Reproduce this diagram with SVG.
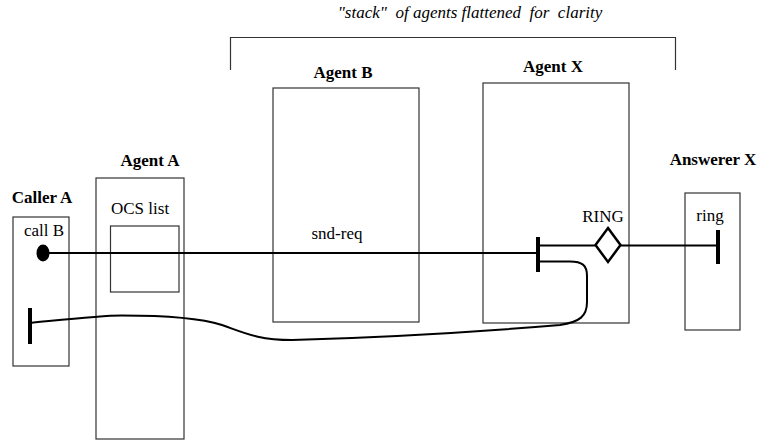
<svg xmlns="http://www.w3.org/2000/svg" width="760" height="442" viewBox="0 0 760 442">
  <style>
    .box { fill: none; stroke: #333; stroke-width: 1.2; }
    .title { font-family: 'Liberation Serif', 'Times New Roman', Times, 'DejaVu Serif', serif; font-weight: bold; font-size: 17px; fill: #000; }
    .lbl { font-family: 'Liberation Serif', 'Times New Roman', Times, 'DejaVu Serif', serif; font-size: 17px; fill: #000; }
    .note { font-family: 'Liberation Serif', 'Times New Roman', Times, 'DejaVu Serif', serif; font-style: italic; font-size: 17px; fill: #000; }
    .wire { fill: none; stroke: #000; stroke-width: 2; }
    .bar { stroke: #000; stroke-width: 4; }
  </style>
  <rect width="760" height="442" fill="#fff"/>

  <!-- bracket grouping the flattened agent stack -->
  <g id="stack-bracket">
    <text class="note" x="470" y="18" text-anchor="middle" xml:space="preserve">"stack"  of agents flattened  for  clarity</text>
    <path d="M230.5,70 V37.5 H675.5 V70" fill="none" stroke="#333" stroke-width="1.2"/>
  </g>

  <g id="caller-a">
    <text class="title" x="42" y="203" text-anchor="middle">Caller A</text>
    <rect class="box" x="13" y="217" width="56" height="149"/>
    <text class="lbl" x="44" y="236" text-anchor="middle">call B</text>
    <ellipse cx="43" cy="253" rx="6.5" ry="8.5" fill="#000"/>
    <line class="bar" x1="30" y1="308" x2="30" y2="344"/>
  </g>

  <g id="agent-a">
    <text class="title" x="150" y="166" text-anchor="middle">Agent A</text>
    <rect class="box" x="96" y="178" width="88" height="261"/>
    <text class="lbl" x="111" y="214">OCS list</text>
    <rect class="box" x="110.5" y="226" width="68.5" height="66"/>
  </g>

  <g id="agent-b">
    <text class="title" x="343" y="78" text-anchor="middle">Agent B</text>
    <rect class="box" x="273" y="88" width="146" height="234"/>
    <text class="lbl" x="337" y="239" text-anchor="middle">snd-req</text>
  </g>

  <g id="agent-x">
    <text class="title" x="553" y="72" text-anchor="middle">Agent X</text>
    <rect class="box" x="483" y="83" width="146" height="240"/>
    <text class="lbl" x="603" y="222" text-anchor="middle">RING</text>
    <polygon points="608,228 620.5,245 608,262 595.5,245" fill="#fff" stroke="#000" stroke-width="2.5"/>
    <line class="bar" x1="538" y1="237" x2="538" y2="272"/>
  </g>

  <g id="answerer-x">
    <text class="title" x="713" y="165" text-anchor="middle">Answerer X</text>
    <rect class="box" x="685" y="193" width="55" height="137"/>
    <text class="lbl" x="710" y="221" text-anchor="middle">ring</text>
    <line class="bar" x1="718" y1="230" x2="718" y2="264"/>
  </g>

  <!-- signal paths between the parties -->
  <g id="connectors">
    <line class="wire" x1="43" y1="253" x2="538" y2="253"/>
    <line class="wire" x1="538" y1="245.5" x2="595.5" y2="245.5"/>
    <line class="wire" x1="620.5" y1="245.5" x2="718" y2="245.5"/>
    <path class="wire" d="M30,323 C70,319 100,315.5 122,315.5 C160,315.5 200,318 222,325 C245,333 258,340 292,340 C400,337 500,330 560,325 C580,322 587,316 587,302 L587,276 C587,265 582,261.5 570,261.5 L538,261.5"/>
  </g>
</svg>
